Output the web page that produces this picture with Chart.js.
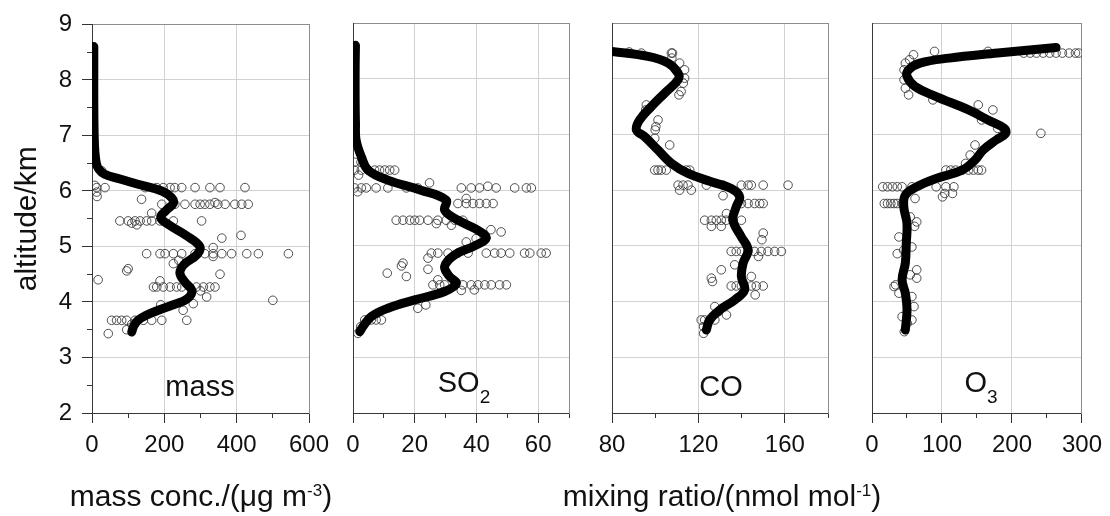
<!DOCTYPE html>
<html>
<head>
<meta charset="utf-8">
<script src="https://cdn.jsdelivr.net/npm/chart.js@4.4.0/dist/chart.umd.min.js"></script>
<style>
  html, body { margin: 0; padding: 0; background: #fff; }
  #wrap { position: relative; width: 1110px; height: 516px; overflow: hidden;
          font-family: "Liberation Sans", Arial, sans-serif; color: #111; }
  #wrap canvas { position: absolute; left: 0; top: 0; }
  .lbl { position: absolute; white-space: nowrap; line-height: 1; transform: translateX(-50%); }
  .lbl sub, .lbl sup { line-height: 0; }
</style>
</head>
<body>
<div id="wrap">
  <canvas id="pMass" width="1110" height="516"></canvas>
  <canvas id="pSO2" width="1110" height="516"></canvas>
  <canvas id="pCO" width="1110" height="516"></canvas>
  <canvas id="pO3" width="1110" height="516"></canvas>

  <div class="lbl" style="left:200px; top:372px; font-size:29px;">mass</div>
  <div class="lbl" style="left:464px; top:368px; font-size:29px;">SO<sub style="font-size:19px; vertical-align:-11px;">2</sub></div>
  <div class="lbl" style="left:721px; top:372px; font-size:29px;">CO</div>
  <div class="lbl" style="left:981px; top:368px; font-size:29px;">O<sub style="font-size:19px; vertical-align:-11px;">3</sub></div>

  <div class="lbl" style="left:201px; top:481px; font-size:30px;">mass conc./(μg m<sup style="font-size:17px; vertical-align:10px;">-3</sup>)</div>
  <div class="lbl" style="left:722px; top:481px; font-size:30px;">mixing ratio/(nmol mol<sup style="font-size:17px; vertical-align:10px;">-1</sup>)</div>
</div>

<script>
// ---- altitude axis (km) ----
const altRange = [2, 9];
const altTicks = [2, 3, 4, 5, 6, 7, 8, 9];
const altMinor = [2, 2.5, 3, 3.5, 4, 4.5, 5, 5.5, 6, 6.5, 7, 7.5, 8, 8.5, 9];

// ---- x axes ----
const massRange = [0, 600];
const massTicks = [0, 200, 400, 600];
const massMinor = [0, 100, 200, 300, 400, 500, 600];

const so2Range = [0, 70];
const so2Ticks = [0, 20, 40, 60];
const so2Minor = [0, 10, 20, 30, 40, 50, 60, 70];

const coRange = [80, 180];
const coTicks = [80, 120, 160];
const coMinor = [80, 100, 120, 140, 160, 180];

const o3Range = [0, 300];
const o3Ticks = [0, 100, 200, 300];
const o3Minor = [0, 50, 100, 150, 200, 250, 300];

// ---- smoothed profiles: [value, altitude km] ----
const massLine = [[5,8.6],[5,8.2],[5,7.6],[6,7.0],[8,6.7],[12,6.5],[18,6.4],[35,6.3],[75,6.22],[127,6.12],
  [193,6.0],[220,5.88],[225,5.78],[205,5.65],[190,5.52],[215,5.38],[260,5.2],[298,5.0],[290,4.85],
  [255,4.68],[243,4.52],[258,4.35],[276,4.2],[262,4.05],[225,3.95],[183,3.85],[150,3.76],[127,3.67],
  [115,3.56],[110,3.46]];

const so2Line = [[0.8,8.6],[0.7,8.2],[0.7,7.6],[0.8,7.2],[1,6.9],[2.7,6.6],[4.9,6.36],[11.3,6.18],
  [22,6.0],[30.2,5.82],[29.7,5.64],[34,5.46],[40.5,5.28],[43.2,5.14],[39.4,5.0],[33,4.84],[29.7,4.63],
  [31.3,4.45],[33.5,4.33],[29.7,4.18],[20,4.03],[11.3,3.88],[5.9,3.73],[3.2,3.55],[2.2,3.46]];

const coLine = [[80,8.49],[96.7,8.4],[106,8.28],[110.6,8.1],[110.6,7.98],[104.4,7.74],[98.2,7.5],
  [92.8,7.26],[91.3,7.08],[95.1,6.96],[101.3,6.72],[107.5,6.48],[115.2,6.3],[126,6.15],[135.2,6.03],
  [139.1,5.88],[137.5,5.7],[136,5.46],[139.9,5.16],[143,4.93],[140.7,4.69],[139.9,4.45],[141.4,4.21],
  [136.8,4.03],[129.9,3.85],[125.2,3.67],[123.7,3.49]];

const o3Line = [[263,8.56],[179.6,8.46],[110,8.37],[68.5,8.28],[52.3,8.16],[50,8.04],[61.5,7.86],
  [91.7,7.68],[138,7.44],[165.7,7.26],[189,7.11],[191,7.02],[177.4,6.9],[158.8,6.72],[147.2,6.54],
  [128.8,6.36],[91.7,6.21],[63.9,6.06],[47.6,5.91],[45.4,5.7],[50,5.4],[49,5.05],[47.6,4.69],
  [43,4.39],[47.6,4.15],[50,3.85],[47.6,3.49]];

// ---- individual measurements: [value, altitude km] ----
const massPts = [[13,6.06],[36,6.06],[147,6.06],[179,6.06],[197,6.06],[216,6.06],[229,6.06],[248,6.06],
  [285,6.06],[326,6.06],[354,6.06],[423,6.06],[13,5.98],[27,6.36],[8,6.1],[14,5.9],
  [137,5.85],[193,5.76],[229,5.76],[257,5.76],[285,5.76],[299,5.76],[312,5.76],[326,5.76],[348,5.76],
  [368,5.76],[395,5.76],[414,5.76],[432,5.76],[340,5.79],
  [165,5.6],[77,5.46],[100,5.46],[119,5.46],[133,5.46],[151,5.46],[165,5.46],[188,5.46],[225,5.46],
  [303,5.46],[124,5.39],[110,5.42],[359,5.15],[412,5.2],
  [151,4.87],[188,4.87],[202,4.87],[225,4.87],[248,4.87],[285,4.87],[312,4.87],[335,4.87],[359,4.87],
  [386,4.87],[428,4.87],[460,4.87],[543,4.87],[335,4.98],[335,4.82],[240,4.75],
  [225,4.69],[100,4.6],[96,4.56],[17,4.4],[354,4.5],
  [188,4.38],[170,4.27],[179,4.27],[197,4.27],[216,4.27],[234,4.27],[248,4.27],[289,4.27],[308,4.27],
  [326,4.27],[340,4.27],[300,4.2],[317,4.09],[500,4.03],[252,3.85],[280,3.97],[190,3.95],
  [54,3.67],[68,3.67],[82,3.67],[96,3.67],[119,3.67],[142,3.67],[165,3.67],[193,3.67],[262,3.67],
  [96,3.5],[45,3.43],[110,3.6]];

const so2Pts = [[0.5,6.5],[2.6,6.5],[0.5,6.36],[2.7,6.36],[4.9,6.36],[7,6.36],[8.6,6.36],[10.3,6.36],
  [11.9,6.36],[13.5,6.36],[1.8,6.27],
  [0.5,6.04],[2.7,6.04],[4.3,6.04],[7.5,6.04],[11.3,6.04],[17.3,6.04],[21,6.04],[24.8,6.13],[35.1,6.04],
  [38.3,6.04],[41,6.04],[43.7,6.07],[46.4,6.04],[52.4,6.04],[56.2,6.04],[57.8,6.04],[1.5,5.97],
  [34,5.76],[36.7,5.76],[38.9,5.76],[41,5.76],[43.2,5.76],[45.4,5.76],[36.7,5.85],
  [14,5.46],[16.2,5.46],[18.4,5.46],[20,5.46],[21.6,5.46],[24.3,5.46],[27.5,5.46],[30.2,5.46],[33,5.46],
  [35.6,5.46],[27,5.4],[31.9,5.37],[44.7,5.29],[48,5.25],[39.9,5.13],[36.7,5.07],
  [25.4,4.87],[27.5,4.87],[30.8,4.87],[34,4.87],[37.3,4.87],[43.2,4.87],[45.9,4.87],[48,4.87],[50.8,4.87],
  [55.6,4.87],[57.3,4.87],[61,4.87],[62.6,4.87],
  [24.3,4.78],[16.2,4.69],[15.7,4.64],[24.3,4.58],[11.1,4.51],[17.3,4.45],
  [25.9,4.3],[28.1,4.3],[29.7,4.3],[33,4.3],[35.6,4.3],[38.3,4.3],[40.5,4.3],[42.7,4.3],[44.8,4.3],
  [47.5,4.3],[49.7,4.3],[35.1,4.2],[39.3,4.21],[27.5,4.39],[21,3.88],[23.6,3.94],
  [3.8,3.67],[5.9,3.67],[7.5,3.67],[9.2,3.67],[2.5,3.55],[1.6,3.43]];

const coPts = [[88,8.48],[93.6,8.46],[107.5,8.46],[108,8.46],[107.7,8.37],[111.3,8.28],[113.6,8.16],
  [113.6,8.01],[113,7.92],[112,7.77],[111,7.71],
  [95.9,7.53],[95.6,7.44],[101.3,7.26],[100.3,7.14],[100,7.08],[99.8,6.93],[106.7,6.81],
  [99.8,6.36],[101.3,6.36],[102.8,6.36],[105.1,6.36],[114.4,6.36],[116,6.36],
  [110.6,6.09],[112.9,6.09],[115.2,6.09],[123.7,6.09],[131.4,6.09],[139.9,6.09],[143,6.09],[144.5,6.09],
  [150,6.09],[161.5,6.09],[111.3,6.0],[116.7,6.0],[131.4,5.9],
  [139.9,5.76],[143,5.76],[146,5.76],[148.4,5.76],[150,5.76],
  [122.9,5.46],[126,5.46],[128.3,5.46],[130.6,5.46],[132.9,5.46],[136,5.46],[139.9,5.46],[126,5.35],
  [130.6,5.35],[133,5.58],[150,5.23],[149.4,5.11],
  [135.2,4.9],[137.5,4.9],[139.9,4.9],[143,4.9],[146,4.9],[149.1,4.9],[152.2,4.9],[155.3,4.9],[158.4,4.9],
  [147.8,4.81],[136.8,4.66],[130.6,4.57],[126,4.42],[126.5,4.36],
  [135.2,4.28],[137.5,4.28],[139.9,4.28],[144.5,4.28],[146.8,4.28],[150,4.28],[144.5,4.45],[146.3,4.12],
  [127.6,3.91],[133,3.76],[129.3,3.82],
  [121.3,3.67],[122.9,3.67],[125.2,3.67],[127.6,3.67],[122.4,3.55],[122.4,3.43]];

const o3Pts = [[216.7,8.46],[226,8.46],[235,8.46],[244.5,8.46],[253.8,8.46],[263,8.46],[272,8.46],
  [281.6,8.46],[290.7,8.46],[295.4,8.46],[165.7,8.49],[89.3,8.49],[59.3,8.43],
  [47.7,8.28],[53.7,8.34],[45.8,8.16],[45.8,7.98],[47.7,7.83],[52.3,7.71],[87,7.62],
  [151.8,7.53],[172.7,7.44],[156.5,7.26],[179.6,7.11],[241.3,7.02],
  [147.2,6.81],[140.3,6.63],[133.7,6.48],
  [105.6,6.36],[112.5,6.36],[119.5,6.36],[128.8,6.36],[138,6.36],[145,6.36],[151.8,6.36],[156.5,6.36],
  [15.3,6.06],[22.2,6.06],[29.2,6.06],[36.1,6.06],[43,6.06],[57,6.06],[91.7,6.06],[105.6,6.06],[117,6.06],
  [104,5.94],[115,5.94],[100.7,5.88],
  [17.6,5.76],[22.2,5.76],[26.9,5.76],[31.5,5.76],[36.1,5.76],[43,5.76],[61.5,5.85],
  [54.6,5.52],[63.9,5.43],[60.8,5.35],[38.5,5.16],[57,4.98],[36.1,4.86],[45.3,4.92],[63.9,4.57],
  [63.9,4.42],[54.6,4.48],[33.8,4.3],[31.5,4.27],[38.5,4.15],[57,4.09],[60,3.91],[43,3.73],[57,3.67],
  [50.4,3.61],[46.2,3.46]];

// ---- drawing ----
const FONT = "'Liberation Sans', Arial, sans-serif";
const GRID = '#d2d2d2';
const AXIS = '#3a3a3a';
const FRAME = '#8c8c8c';
const TICK = '#333';
const W = 1110, H = 516;
const PLOT_TOP = 23, PLOT_BOTTOM = 413;
const X_AXIS_H = 60;

const toXY = arr => arr.map(([v, a]) => ({ x: v, y: a }));
const setTicks = values => scale => { scale.ticks = values.map(v => ({ value: v })); };

function drawPanel(canvasId, left, right, range, major, minor, line, pts, altLabels) {
  const scales = {
    x: {
      type: 'linear', position: 'bottom', weight: 1, min: range[0], max: range[1],
      afterBuildTicks: setTicks(major),
      afterFit: s => { s.height = X_AXIS_H; },
      ticks: { font: { family: FONT, size: 24 }, color: '#111', padding: 8, maxRotation: 0, autoSkip: false },
      grid: { color: GRID, lineWidth: 1, tickColor: TICK, tickLength: 10 },
      border: { color: AXIS, width: 1 }
    },
    xMinor: {
      type: 'linear', position: 'bottom', weight: 0, min: range[0], max: range[1],
      afterBuildTicks: setTicks(minor),
      afterFit: s => { s.height = 0; },
      ticks: { display: false },
      grid: { drawOnChartArea: false, tickColor: TICK, tickLength: 5 },
      border: { display: false }
    },
    xTop: {
      type: 'linear', position: 'top', min: range[0], max: range[1],
      afterFit: s => { s.height = 0; },
      ticks: { display: false },
      grid: { display: false },
      border: { color: FRAME, width: 1 }
    },
    y: {
      type: 'linear', position: 'left', weight: 1, min: altRange[0], max: altRange[1],
      afterBuildTicks: setTicks(altTicks),
      afterFit: s => { s.width = altLabels ? left : 0; },
      ticks: { display: altLabels, font: { family: FONT, size: 24 }, color: '#111', padding: 10 },
      grid: { color: GRID, lineWidth: 1, drawTicks: altLabels, tickColor: TICK, tickLength: 10 },
      border: { color: AXIS, width: 1 },
      title: {
        display: altLabels, text: 'altitude/km', color: '#111',
        font: { family: FONT, size: 30 }, padding: { top: 10, bottom: 0 }
      }
    },
    yRight: {
      type: 'linear', position: 'right', min: altRange[0], max: altRange[1],
      afterFit: s => { s.width = 0; },
      ticks: { display: false },
      grid: { display: false },
      border: { color: FRAME, width: 1 }
    }
  };
  if (altLabels) {
    scales.yMinor = {
      type: 'linear', position: 'left', weight: 0, min: altRange[0], max: altRange[1],
      afterBuildTicks: setTicks(altMinor),
      afterFit: s => { s.width = 0; },
      ticks: { display: false },
      grid: { drawOnChartArea: false, tickColor: TICK, tickLength: 5 },
      border: { display: false }
    };
  }

  return new Chart(document.getElementById(canvasId), {
    type: 'scatter',
    data: {
      datasets: [
        {
          data: toXY(line), xAxisID: 'x', yAxisID: 'y', order: 0,
          showLine: true, borderColor: '#000', borderWidth: 9, tension: 0.4,
          borderCapStyle: 'round', borderJoinStyle: 'round', pointRadius: 0, fill: false, clip: 0
        },
        {
          data: toXY(pts), xAxisID: 'x', yAxisID: 'y', order: 1,
          showLine: false, pointStyle: 'circle', pointRadius: 4.3, borderWidth: 1,
          pointBorderColor: 'rgba(50,50,50,0.85)', pointBackgroundColor: 'rgba(255,255,255,0)'
        }
      ]
    },
    options: {
      responsive: false, animation: false, devicePixelRatio: 1, events: [],
      layout: {
        padding: {
          left: altLabels ? 0 : left, right: W - right,
          top: PLOT_TOP, bottom: H - PLOT_BOTTOM - X_AXIS_H
        }
      },
      plugins: { legend: { display: false }, tooltip: { enabled: false }, title: { display: false } },
      scales
    }
  });
}

drawPanel('pMass', 92, 309, massRange, massTicks, massMinor, massLine, massPts, true);
drawPanel('pSO2', 353, 569, so2Range, so2Ticks, so2Minor, so2Line, so2Pts, false);
drawPanel('pCO', 612, 828, coRange, coTicks, coMinor, coLine, coPts, false);
drawPanel('pO3', 872, 1088, o3Range, o3Ticks, o3Minor, o3Line, o3Pts, false);
</script>
</body>
</html>
